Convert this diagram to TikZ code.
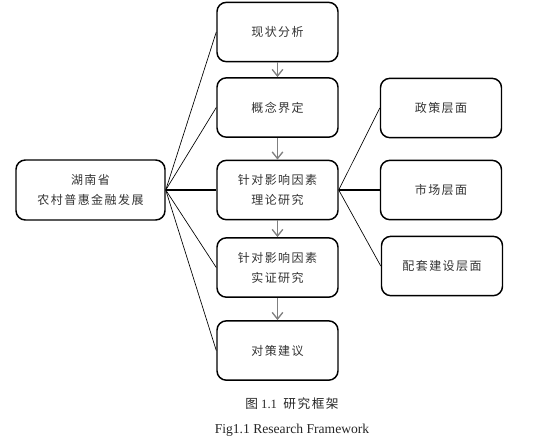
\documentclass[tikz,border=0pt]{standalone}
\usepackage{fontspec}
\setmainfont{Liberation Serif}
\newfontfamily\cjk[LetterSpace=12]{Noto Sans CJK SC}
\usepackage{tikz}
\usetikzlibrary{arrows.meta}

\begin{document}
\begin{tikzpicture}[x=0.75pt, y=-0.75pt,
	box/.style={draw, line width=1.1pt, rounded corners=7pt, minimum width=90.75pt, minimum height=44.5pt, inner sep=0pt, align=center, font=\cjk\fontsize{9pt}{15pt}\selectfont, text=black!80},
	link/.style={line width=0.5pt},
	mainlink/.style={line width=1.4pt},
	step arrow/.style={draw=black!50, line width=1pt, -{Straight Barb[length=5pt, width=8pt]}}]
	\useasboundingbox (0,0) rectangle (535,443);

	% left
	\node[box, minimum width=111.75pt, minimum height=45pt] (hunan) at (90.5,190) {湖南省\\农村普惠金融发展};

	% middle column
	\node[box] (xianzhuang) at (277.5,32) {现状分析};
	\node[box] (gainian) at (277.5,107.5) {概念界定};
	\node[box] (lilun) at (277.5,190) {针对影响因素\\理论研究};
	\node[box] (shizheng) at (277.5,267.5) {针对影响因素\\实证研究};
	\node[box] (duice) at (277.5,350.5) {对策建议};

	% right column
	\node[box] (zhengce) at (441,108) {政策层面};
	\node[box] (shichang) at (441,190) {市场层面};
	\node[box] (peitao) at (442,266) {配套建设层面};

	\draw[link] (hunan.east) -- (xianzhuang.west);
	\draw[link] (hunan.east) -- (gainian.west);
	\draw[mainlink] (hunan.east) -- (lilun.west);
	\draw[link] (hunan.east) -- (shizheng.west);
	\draw[link] (hunan.east) -- (duice.west);

	\draw[step arrow] (xianzhuang) -- (gainian);
	\draw[step arrow] (gainian) -- (lilun);
	\draw[step arrow] (lilun) -- (shizheng);
	\draw[step arrow] (shizheng) -- (duice);

	\draw[link] (lilun.east) -- (zhengce.west);
	\draw[mainlink] (lilun.east) -- (shichang.west);
	\draw[link] (lilun.east) -- (peitao.west);

	% caption
	\node[font=\fontsize{9.5pt}{11pt}\selectfont, text=black!85] (captioncn) at (292,404) {{\cjk 图} 1.1\ \ {\cjk 研究框架}};
	\node[font=\fontsize{10.2pt}{12pt}\selectfont, text=black!85] (captionen) at (292,430) {Fig1.1 Research Framework};

\end{tikzpicture}
\end{document}
